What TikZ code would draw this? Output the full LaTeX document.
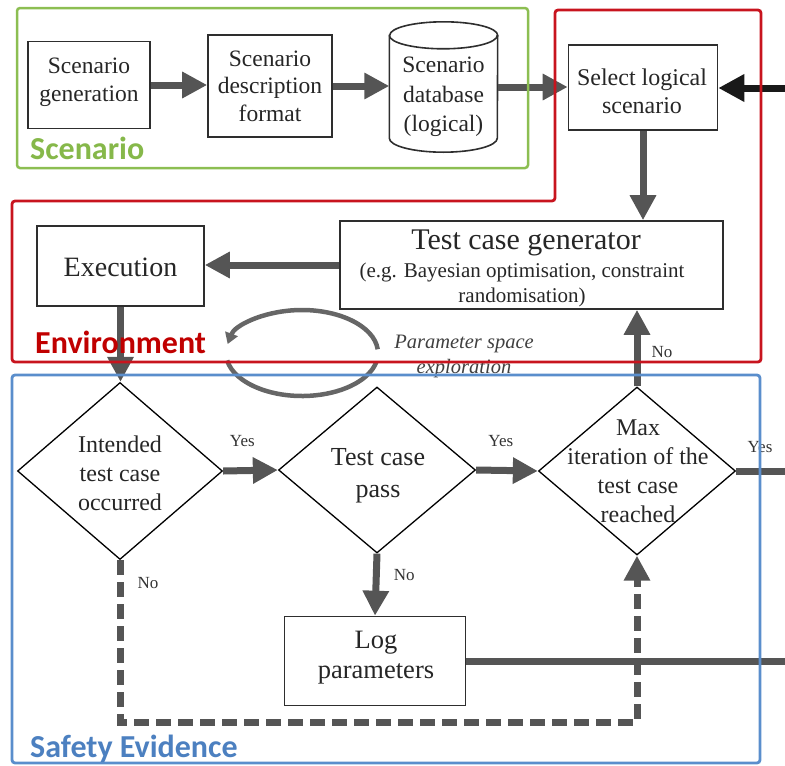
\documentclass[tikz,border=0pt]{standalone}
\usepackage{fontspec}
\setmainfont{Liberation Serif}
\newfontfamily\areafont{Carlito}
\usetikzlibrary{shapes.geometric,arrows.meta,calc}

\definecolor{boxline}{HTML}{2E2E2E}
\definecolor{flowgray}{HTML}{555555}
\definecolor{scengreen}{HTML}{8CBE52}
\definecolor{envred}{HTML}{C8141E}
\definecolor{evblue}{HTML}{5A8ECC}
\definecolor{scentext}{HTML}{86B84A}
\definecolor{envtext}{HTML}{C00000}
\definecolor{evtext}{HTML}{4C80C0}

\newcommand\setfs[2]{\fontsize{#1}{#2}\selectfont}

\begin{document}
\begin{tikzpicture}[x=1pt,y=-1pt,
  procbox/.style={draw=boxline, line width=1.6pt, fill=white, inner sep=0pt},
  choice/.style={draw=black, line width=1.3pt, diamond, inner sep=0pt, fill=white},
  txt/.style={align=center, inner sep=0pt, text=black!85},
  flow/.style={draw=flowgray, line width=7pt, -{Triangle[length=25pt,width=25pt]}},
  plainflow/.style={draw=flowgray, line width=7pt},
  dashflow/.style={draw=flowgray, line width=7pt, dash pattern=on 15pt off 7pt,
                   -{Triangle[length=25pt,width=25pt]}},
  inflow/.style={draw=black!90, line width=7pt, -{Triangle[length=26pt,width=26pt]}},
  decision/.style={font=\setfs{17}{20}, text=black!80, inner sep=0pt},
  frame/.style={line width=2.8pt, rounded corners=3pt},
  areaname/.style={font=\areafont\bfseries\setfs{32}{36}, anchor=base west, inner sep=0pt}
]
\useasboundingbox (0,0) rectangle (785,766);

% ---------- scenario chain ----------
\node[procbox, minimum width=122pt, minimum height=87pt] (sgen) at (89,85) {};
\node[txt, font=\setfs{23.5}{28}] (sgent) at (89,82) {Scenario\\generation};

\node[procbox, minimum width=124pt, minimum height=102pt] (sdesc) at (270,86) {};
\node[txt, font=\setfs{23.5}{27.5}] (sdesct) at (270,86) {Scenario\\description\\format};

% database cylinder (radii are given in pt, so arc angles follow the page: 90 = up)
\node[minimum width=108pt, minimum height=130pt, inner sep=0pt] (db) at (443.5,87) {};
\draw[boxline, line width=1.6pt, fill=white]
  ($(db.north west)+(0,13.5)$) -- ($(db.south west)+(0,-14)$)
  arc[start angle=180, end angle=360, x radius=54pt, y radius=14pt]
  -- ($(db.north east)+(0,13.5)$)
  arc[start angle=0, end angle=180, x radius=54pt, y radius=13.5pt] -- cycle;
\draw[boxline, line width=1.6pt]
  ($(db.north west)+(0,13.5)$)
  arc[start angle=180, end angle=360, x radius=54pt, y radius=13.5pt];
\node[txt, font=\setfs{23.5}{29.5}] (dbt) at (443.5,97) {Scenario\\database\\(logical)};

\node[procbox, minimum width=149pt, minimum height=85pt] (sel) at (643,87.5) {};
\node[txt, font=\setfs{24}{28}] (selt) at (642,91) {Select logical\\scenario};

% ---------- environment ----------
\node[procbox, minimum width=383pt, minimum height=88pt] (tcg) at (531.5,265) {};
\node[txt, font=\setfs{30}{34}] (tcgt) at (526,243) {Test case generator};
\node[txt, font=\setfs{21}{25}] (tcgs) at (522,285) {(e.g. Bayesian optimisation, constraint\\randomisation)};

\node[procbox, minimum width=167pt, minimum height=80pt] (exe) at (120.5,266) {};
\node[txt, font=\setfs{28}{32}] (exet) at (120.5,267) {Execution};

% parameter space exploration loop
\coordinate (loop) at (302,353);
\draw[gray!80!black, line width=4.5pt, -{Triangle[length=11pt,width=13pt]}]
  ($(loop)+(5:76pt and 43pt)$) arc[start angle=5, end angle=168, x radius=76pt, y radius=43pt];
\draw[gray!80!black, line width=4.5pt]
  ($(loop)+(-170:76pt and 43pt)$) arc[start angle=-170, end angle=-12, x radius=76pt, y radius=43pt];
\node[txt, font=\itshape\setfs{20.5}{25}, text=black!75] (pse) at (464,356) {Parameter space\\exploration};

% ---------- safety evidence ----------
\node[choice, minimum width=205pt, minimum height=177pt] (d1) at (120,471) {};
\node[txt, font=\setfs{24}{29}] (d1t) at (120,473) {Intended\\test case\\occurred};

\node[choice, minimum width=197pt, minimum height=166pt] (d2) at (377,470) {};
\node[txt, font=\setfs{26}{32}] (d2t) at (378,476) {Test case\\pass};

\node[choice, minimum width=197pt, minimum height=168pt] (d3) at (637,471) {};
\node[txt, font=\setfs{24}{29}] (d3t) at (638,471) {Max\\iteration of the\\test case\\reached};

\node[procbox, minimum width=181pt, minimum height=89pt] (log) at (375,661) {};
\node[txt, font=\setfs{26.5}{30}] (logt) at (376,658) {Log\\parameters};

% loose ends at the right border
\coordinate (inR) at (785,88);
\coordinate (outYes) at (785,470);
\coordinate (outLog) at (785,657);
\coordinate (dashR) at (637,722);

% ---------- connectors ----------
\draw[flow] (sgen.east) -- (sgen.east -| sdesc.west);
\draw[flow] (sdesc.east) -- (sdesc.east -| db.west);
\draw[flow] (db.east) -- (db.east -| sel.west);
\draw[inflow] (inR) -- (inR -| sel.east);
\draw[flow] (sel.south) -- (sel.south |- tcg.north);
\draw[flow] (tcg.west) -- (tcg.west -| exe.east);
\draw[flow] (exe.south) -- (exe.south |- d1.north);

\draw[flow] (d1.east) -- (d2.west) node[decision, pos=0.35, above=20pt] {Yes};
\draw[flow] (d2.east) -- (d3.west) node[decision, pos=0.4, above=20pt] {Yes};
\draw[plainflow] (d3.east) -- (d3.east -| outYes);
\node[decision] (yes3) at (760,447) {Yes};

\draw[flow] (d2.south) -- (log.north) node[decision, pos=0.35, right=14pt] {No};
\draw[plainflow] (log.east) -- (log.east -| outLog);

\draw[dashflow] (d1.south) -- (d1.south |- dashR) -- (dashR) -- (d3.south);
\node[decision] (no1) at (148,583) {No};

\draw[flow] (d3.north) -- (d3.north |- tcg.south);
\node[decision] (no3) at (662,352) {No};

% ---------- area frames ----------
\draw[frame, scengreen, line width=2.5pt] (17,8) rectangle (528,168);
\node[areaname, text=scentext] (scenlbl) at (30,159) {Scenario};

\draw[frame, envred] (555,10) -- (761,10) -- (761,362) -- (12,362) -- (12,201) -- (555,201) -- cycle;
\node[areaname, text=envtext] (envlbl) at (35,353) {Environment};

\draw[frame, evblue] (12,375) rectangle (760,763);
\node[areaname, text=evtext] (evlbl) at (30,757) {Safety Evidence};
\end{tikzpicture}
\end{document}
